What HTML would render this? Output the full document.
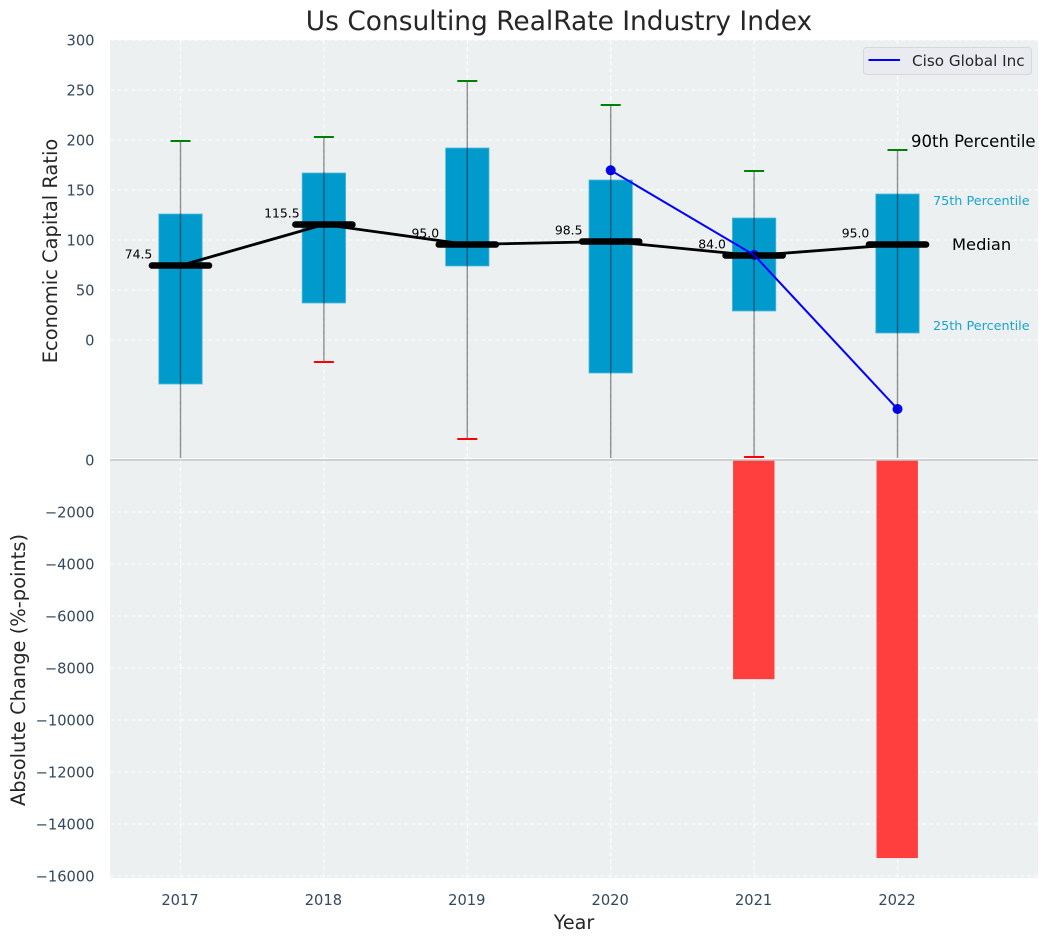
<!DOCTYPE html>
<html lang="en">
<head>
<meta charset="utf-8">
<title>Us Consulting RealRate Industry Index</title>
<style>
html,body{margin:0;padding:0;background:#fff;width:1048px;height:942px;overflow:hidden}
svg{display:block}
text{font-family:"DejaVu Sans","Liberation Sans",sans-serif}
</style>
</head>
<body>
<svg id="chart" width="1048" height="942" viewBox="0 0 1048 942" xmlns="http://www.w3.org/2000/svg">
  <defs>
    <clipPath id="upper-clip"><rect x="110" y="40" width="928" height="418"></rect></clipPath>
    <clipPath id="lower-clip"><rect x="110" y="459" width="928" height="419"></rect></clipPath>
  </defs>
  <rect x="110" y="40" width="928" height="418" fill="#ecf0f1"></rect>
  <rect x="110" y="459" width="928" height="419" fill="#ecf0f1"></rect>
  <g id="grid"></g>
  <g id="bars" clip-path="url(#lower-clip)"></g>
  <line x1="110" x2="1038" y1="460" y2="460" stroke="#c4c6c7" stroke-width="1.5"></line>
  <g id="boxes" clip-path="url(#upper-clip)"></g>
  <g id="ticks"></g>
  <g id="median-labels"></g>

  <text x="559" y="30" text-anchor="middle" font-size="26.45" fill="#262626">Us Consulting RealRate Industry Index</text>
  <text transform="translate(57,251) rotate(-90)" text-anchor="middle" font-size="19.45" fill="#262626">Economic Capital Ratio</text>
  <text transform="translate(25,670) rotate(-90)" text-anchor="middle" font-size="19.45" fill="#262626">Absolute Change (%-points)</text>
  <text x="574" y="929" text-anchor="middle" font-size="19.2" fill="#262626">Year</text>

  <text x="911" y="147" font-size="16.5" fill="#000">90th Percentile</text>
  <text x="933" y="205" font-size="12.8" fill="#19a4d2">75th Percentile</text>
  <text x="952" y="250" font-size="16.3" fill="#000">Median</text>
  <text x="933" y="330" font-size="12.8" fill="#19a4d2">25th Percentile</text>

  <g>
    <rect x="863.5" y="47.5" width="168" height="27" rx="3" fill="#e9ebf1" stroke="#d6d8dc" stroke-width="1"></rect>
    <line x1="868.5" x2="900" y1="60" y2="60" stroke="#0000ff" stroke-width="2"></line>
    <text x="912" y="66" font-size="15.2" fill="#262626">Ciso Global Inc</text>
  </g>
</svg>
<script>
const years = [2017, 2018, 2019, 2020, 2021, 2022];
const p90 = [199, 203, 259, 235, 169, 190];
const p75 = [126, 167, 192, 160, 122, 146];
const medians = [74.5, 115.5, 95.5, 98.5, 84.5, 95.5];
const p25 = [-44, 37, 74, -33, 29, 7];
const p10 = [-160, -22, -99, -160, -117, -160];
const medianLabels = ["74.5", "115.5", "95.0", "98.5", "84.0", "95.0"];
const cisoYears = [2020, 2021, 2022];
const cisoValues = [169.7, 85, -69];
const changeYears = [2021, 2022];
const changeValues = [-8430, -15310];
const upperTicks = [0, 50, 100, 150, 200, 250, 300];
const lowerTicks = [0, -2000, -4000, -6000, -8000, -10000, -12000, -14000, -16000];
const xTickLabels = ["2017", "2018", "2019", "2020", "2021", "2022"];

const NS = 'http://www.w3.org/2000/svg';
function xScale(year) { return 180.5 + (year - 2017) * 143.4; }
function yUpper(v) { return 340 - v; }
function yLower(v) { return 460 - v * 0.026; }
function make(tag, parent, attrs) {
  const el = document.createElementNS(NS, tag);
  for (const k in attrs) el.setAttribute(k, attrs[k]);
  parent.appendChild(el);
  return el;
}
const gridG = document.getElementById('grid');
const barsG = document.getElementById('bars');
const boxesG = document.getElementById('boxes');
const ticksG = document.getElementById('ticks');
const labelsG = document.getElementById('median-labels');
const gridStyle = { stroke: '#ffffff', 'stroke-width': 1.1, 'stroke-dasharray': '4.5 2.5', 'stroke-opacity': 0.85 };

upperTicks.forEach(function (t) {
  const g = make('line', gridG, Object.assign({ x1: 110, x2: 1038, y1: yUpper(t), y2: yUpper(t) }, gridStyle));
  
  
  const lab = make('text', ticksG, { x: 94.5, y: yUpper(t) + 5.5, 'text-anchor': 'end', 'font-size': 14.67, fill: '#34495e' });
  lab.textContent = String(t);
  
  
});
lowerTicks.forEach(function (t) {
  if (t !== 0) {
    const g = make('line', gridG, Object.assign({ x1: 110, x2: 1038, y1: yLower(t), y2: yLower(t) }, gridStyle));
    
    
  }
  const lab = make('text', ticksG, { x: 94.5, y: yLower(t) + 5.5, 'text-anchor': 'end', 'font-size': 14.67, fill: '#34495e' });
  lab.textContent = String(t).replace('-', '\u2212');
  
  
});
years.forEach(function (yr, i) {
  const a = make('line', gridG, Object.assign({ x1: xScale(yr), x2: xScale(yr), y1: 40, y2: 458 }, gridStyle));
  
  
  const b = make('line', gridG, Object.assign({ x1: xScale(yr), x2: xScale(yr), y1: 460, y2: 878 }, gridStyle));
  
  
  const lab = make('text', ticksG, { x: xScale(yr) - 0.5, y: 905, 'text-anchor': 'middle', 'font-size': 14.67, fill: '#34495e' });
  lab.textContent = xTickLabels[i];
  
  
});

changeYears.forEach(function (yr, i) {
  const top = yLower(0), bot = yLower(changeValues[i]);
  const r = make('rect', barsG, { x: xScale(yr) - 21, y: top, width: 41.4, height: bot - top, fill: '#ff3e3e' });
  
  
});

years.forEach(function (yr, i) {
  const cx = xScale(yr);
  const top = yUpper(p75[i]), bot = yUpper(p25[i]);
  const r = make('rect', boxesG, { x: cx - 21.7, y: top, width: 43.4, height: bot - top, fill: '#009bcc', stroke: '#4fb9dc', 'stroke-width': 0.8 });
  
  
});

const medPts = years.map(function (yr, i) { return xScale(yr) + ',' + yUpper(medians[i]); }).join(' ');
const medLine = make('polyline', boxesG, { points: medPts, fill: 'none', stroke: '#000', 'stroke-width': 2.8 });



cisoYears.forEach(function (yr, i) {
  const m = make('circle', boxesG, { cx: xScale(yr), cy: yUpper(cisoValues[i]), r: 5, fill: '#0000ff' });
  
  
});

years.forEach(function (yr, i) {
  const cx = xScale(yr), my = yUpper(medians[i]);
  const bar = make('line', boxesG, { x1: cx - 28.5, x2: cx + 28.5, y1: my, y2: my, stroke: '#000', 'stroke-width': 6.6, 'stroke-linecap': 'round' });
  
  
  const lab = make('text', labelsG, { x: cx - 42, y: my - 7, 'text-anchor': 'middle', 'font-size': 12.4, fill: '#000' });
  lab.textContent = medianLabels[i];
  
  
});

const cisoPts = cisoYears.map(function (yr, i) { return xScale(yr) + ',' + yUpper(cisoValues[i]); }).join(' ');
const ciso = make('polyline', boxesG, { points: cisoPts, fill: 'none', stroke: '#0000ff', 'stroke-width': 2 });



years.forEach(function (yr, i) {
  const cx = xScale(yr), hi = yUpper(p90[i]), lo = yUpper(p10[i]);
  const w = make('line', boxesG, { x1: cx, x2: cx, y1: hi, y2: lo, stroke: '#000', 'stroke-opacity': 0.42, 'stroke-width': 1.4 });
  
  
  const c1 = make('line', boxesG, { x1: cx - 10, x2: cx + 10, y1: hi, y2: hi, stroke: '#008000', 'stroke-width': 2 });
  
  
  const c2 = make('line', boxesG, { x1: cx - 10, x2: cx + 10, y1: lo, y2: lo, stroke: '#ff0000', 'stroke-width': 2 });
  
  
});
</script>
</body>
</html>
